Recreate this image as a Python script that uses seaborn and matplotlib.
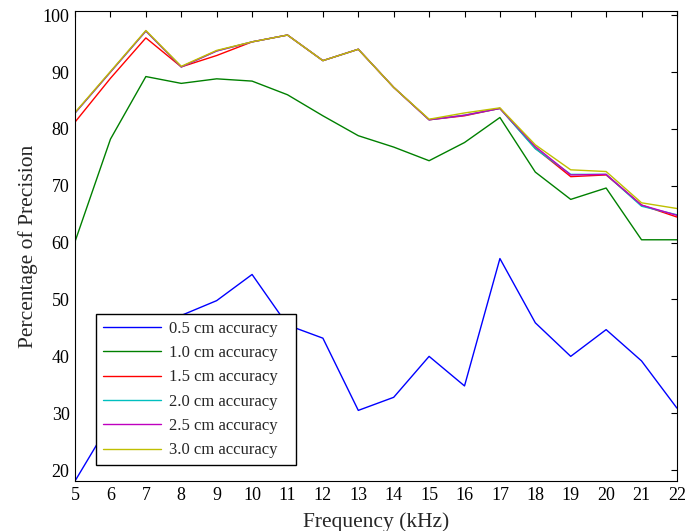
import matplotlib
matplotlib.use("Agg")
import matplotlib.pyplot as plt
import numpy as np
import pandas as pd
import seaborn as sns

# frequency axis (kHz)
freqs = list(range(5, 23))

# precision (%) per accuracy threshold
acc05 = [18.1, 28.5, 39.0, 47.2, 49.8, 54.4, 45.5, 43.2, 30.5, 32.8, 40.0, 34.8, 57.2, 45.9, 40.0, 44.7, 39.2, 30.9]
acc10 = [60.2, 78.2, 89.2, 88.0, 88.8, 88.4, 86.0, 82.3, 78.8, 76.8, 74.4, 77.6, 82.0, 72.4, 67.6, 69.6, 60.5, 60.5]
acc15 = [81.2, 88.9, 96.0, 90.9, 92.9, 95.3, 96.5, 92.0, 94.0, 87.3, 81.6, 82.3, 83.6, 76.6, 71.6, 71.9, 66.6, 64.5]
acc20 = [82.8, 90.0, 97.2, 90.9, 93.7, 95.3, 96.5, 92.0, 94.0, 87.3, 81.6, 82.4, 83.6, 76.5, 72.0, 72.0, 66.4, 64.9]
acc25 = [82.8, 90.0, 97.2, 90.9, 93.7, 95.3, 96.5, 92.0, 94.0, 87.3, 81.6, 82.4, 83.6, 76.9, 71.9, 72.0, 66.6, 64.8]
acc30 = [82.9, 90.1, 97.3, 91.0, 93.8, 95.3, 96.5, 92.0, 94.0, 87.3, 81.7, 82.8, 83.7, 77.2, 72.8, 72.5, 67.0, 66.0]

labels = ["0.5 cm accuracy", "1.0 cm accuracy", "1.5 cm accuracy",
          "2.0 cm accuracy", "2.5 cm accuracy", "3.0 cm accuracy"]
series = [acc05, acc10, acc15, acc20, acc25, acc30]
colors = [(0, 0, 1), (0, 0.5, 0), (1, 0, 0), (0, 0.75, 0.75), (0.75, 0, 0.75), (0.75, 0.75, 0)]

sns.set_style("white")
plt.rcParams['font.family'] = ['Liberation Serif', 'DejaVu Serif']

#long-form table for seaborn
rows = []
for lab, vals in zip(labels, series):
    for f, v in zip(freqs, vals):
        rows.append({'freq': f, 'precision': v, 'label': lab})
df = pd.DataFrame(rows)

fig = plt.figure(figsize=(6.95, 5.31), dpi=100)
ax = fig.add_axes([0.108, 0.094, 0.866, 0.885])

sns.lineplot(data=df, x='freq', y='precision', hue='label', hue_order=labels,
             palette=colors, linewidth=1.0, ax=ax, legend=True)

ax.set_xlim(5, 22)
ax.set_ylim(18.07, 100.7)
ax.set_xticks(freqs)
ax.set_yticks(range(20, 101, 10))
ax.tick_params(direction='in', length=4, width=0.8, top=True, right=True,
               labelsize=13, colors='black', pad=4)
for s in ax.spines.values():
    s.set_color('black')
    s.set_linewidth(0.8)

ax.set_xlabel("Frequency (kHz)", fontsize=15.5, labelpad=6)
ax.set_ylabel("Percentage of Precision", fontsize=15.5, labelpad=3.5)

handles, labs = ax.get_legend_handles_labels()
leg = ax.legend(handles, labs, loc='lower left', bbox_to_anchor=(0.035, 0.034, 0.332, 0.3),
                mode='expand', borderaxespad=0, fontsize=12, frameon=True, fancybox=False,
                framealpha=1, edgecolor='black', handlelength=3.5, handletextpad=0.45,
                labelspacing=0.5, borderpad=0.4)
leg.get_frame().set_linewidth(1.0)

fig.savefig("out.png", dpi=100, facecolor='white')
